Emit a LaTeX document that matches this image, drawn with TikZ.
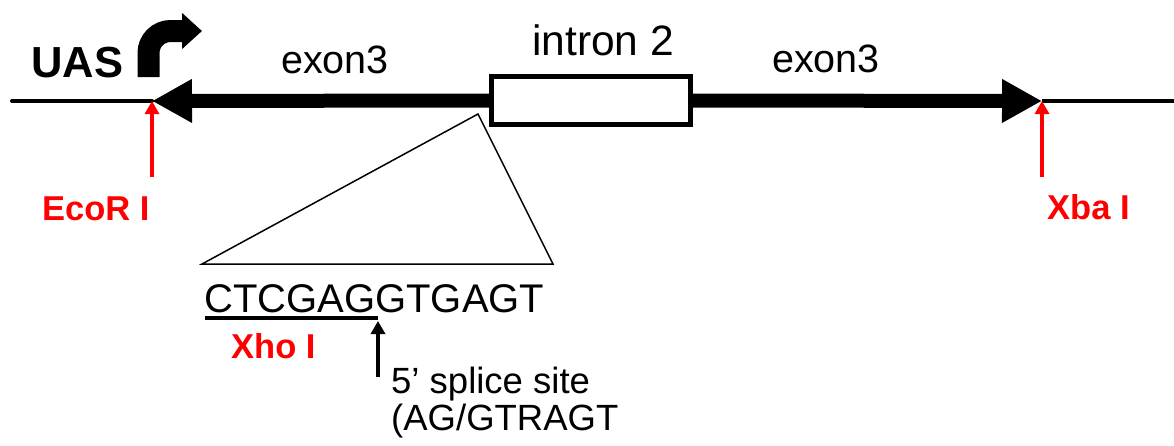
\documentclass[tikz,border=0pt]{standalone}
\usepackage{fontspec}
\setmainfont{Liberation Sans}
\usetikzlibrary{arrows.meta}

\tikzset{
  x=1pt, y=-1pt,
  lbl/.style={inner sep=0pt, anchor=base west},
  fs/.style={font=\fontsize{#1}{#1}\selectfont},
  site/.style={lbl, text=red, font=\fontsize{34.5}{34.5}\selectfont\bfseries},
  dnaline/.style={line width=4pt, line cap=round},
  exonarrow/.style={line width=14pt, -{Triangle[length=40pt,width=41pt]}},
  cutarrow/.style={red, line width=4pt, -{Triangle[length=13pt,width=14pt]}},
  pointer/.style={black, line width=4pt, -{Triangle[length=13pt,width=14pt]}},
  intronbox/.style={draw, line width=5pt, fill=white, minimum width=199pt,
    minimum height=48pt, inner sep=0pt},
}

\begin{document}
\begin{tikzpicture}
\useasboundingbox (0,0) rectangle (1174,445);

% restriction sites and ends of the construct
\coordinate (ecoR) at (152,101);
\coordinate (xba) at (1042,101);
\coordinate (leftend) at (12,101);
\coordinate (rightend) at (1174,101);

% intron and flanking exons
\node[intronbox] (intron) at (591,100.5) {};
\draw[dnaline] (leftend) -- (ecoR);
\draw[line width=4pt] (xba) -- (rightend);
\draw[exonarrow] (intron.west) -- (ecoR);
\draw[exonarrow] (intron.east) -- (xba);

% promoter and labels above the construct
\node[lbl, font=\fontsize{43.5}{43.5}\selectfont\bfseries] (uas) at (31,77) {UAS};
\coordinate (promfoot) at (148.5,77);
\coordinate (promtip) at (202,31);
\draw[line width=22pt, rounded corners=22pt, -{Triangle[length=20pt,width=35pt]}]
  (promfoot) -- (148.5,31) -- (promtip);
\node[lbl, fs=39.5] (exonL) at (281,73) {exon3};
\node[lbl, fs=42.5] (intronlbl) at (532,55) {intron 2};
\node[lbl, fs=39.5] (exonR) at (772,72) {exon3};

% restriction enzyme sites
\node[site] (ecolbl) at (42,220) {EcoR I};
\node[site] (xbalbl) at (1047,219) {Xba I};
\coordinate (ecofoot) at (152,177);
\coordinate (xbafoot) at (1042,177);
\draw[cutarrow] (ecofoot) -- (ecoR);
\draw[cutarrow] (xbafoot) -- (xba);

% magnified view of the exon/intron junction
\coordinate (zoomtop) at (478,114);
\coordinate (zoomL) at (202,264);
\coordinate (zoomR) at (553,264);
\draw[line width=1.5pt, line join=miter] (zoomtop) -- (zoomL) -- (zoomR) -- cycle;

\node[lbl, fs=40] (seq) at (204,312) {CTCGAGGTGAGT};
\coordinate (ulstart) at (205,318);
\coordinate (splice) at (378,318);
\coordinate (splicefoot) at (378,377);
\draw[line width=4pt] (ulstart) -- (splice);
\draw[pointer] (splicefoot) -- ([yshift=-3pt]splice);
\node[site] (xholbl) at (231,358) {Xho I};
\node[lbl, fs=36.5, align=left] (splicelbl) at (391,430) {5’ splice site\\(AG/GTRAGT};
\end{tikzpicture}
\end{document}
